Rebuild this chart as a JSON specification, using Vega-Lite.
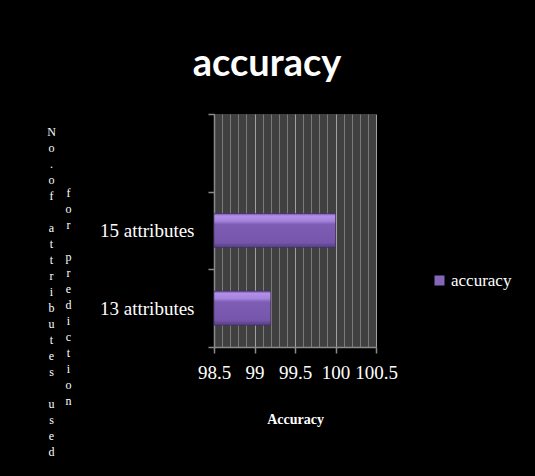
{
  "$schema": "https://vega.github.io/schema/vega-lite/v6.json",
  "autosize": {"type": "none"},
  "width": 162,
  "height": 233,
  "padding": {"left": 214, "top": 114, "right": 159, "bottom": 129},
  "background": "#000000",
  "title": {
    "text": "accuracy",
    "font": "Lato",
    "fontWeight": "bold",
    "fontSize": 38,
    "color": "#ffffff",
    "anchor": "middle",
    "dx": -28,
    "offset": 21
  },
  "data": {
    "values": [
      {"attributes": "15 attributes", "accuracy": 100.0, "series": "accuracy"},
      {"attributes": "13 attributes", "accuracy": 99.2, "series": "accuracy"}
    ]
  },
  "config": {
    "view": {"fill": "#404040", "stroke": null}
  },
  "resolve": {"axis": {"y": "independent"}},
  "layer": [
    {
      "mark": {
        "type": "bar",
        "height": {"band": 0.44},
        "fill": {
          "gradient": "linear",
          "x1": 0, "y1": 0, "x2": 0, "y2": 1,
          "stops": [
            {"offset": 0, "color": "#6a4c9c"},
            {"offset": 0.07, "color": "#b28fe8"},
            {"offset": 0.22, "color": "#a583dc"},
            {"offset": 0.32, "color": "#7e5db5"},
            {"offset": 0.85, "color": "#7656ab"},
            {"offset": 1, "color": "#553b82"}
          ]
        },
        "stroke": "#3a2a5a",
        "strokeWidth": 0.5
      },
      "encoding": {
        "y": {
          "field": "attributes",
          "type": "nominal",
          "sort": null,
          "scale": {"domain": [" ", "15 attributes", "13 attributes"], "paddingInner": 0, "paddingOuter": 0},
          "axis": {
            "title": ["N", "o", ".", "o", "f", "\u200b", "a", "t", "t", "r", "i", "b", "u", "t", "e", "s", "\u200b", "u", "s", "e", "d"],
            "titleFont": "Liberation Serif",
            "titleFontSize": 12,
            "titleFontWeight": "normal",
            "titleColor": "#ffffff",
            "titleAngle": 0,
            "titleAlign": "center",
            "titleBaseline": "alphabetic",
            "titleLineHeight": 16,
            "titleX": -163,
            "titleY": 21,
            "labelFont": "Liberation Serif",
            "labelFontSize": 19,
            "labelColor": "#ffffff",
            "labelPadding": 14,
            "tickBand": "extent",
            "tickColor": "#8a8a8a",
            "tickSize": 6,
            "tickWidth": 1.5,
            "domainColor": "#8a8a8a",
            "domainWidth": 1.5,
            "grid": false
          }
        },
        "x": {
          "field": "accuracy",
          "type": "quantitative",
          "scale": {"domain": [98.5, 100.5], "zero": false, "nice": false},
          "axis": {
            "values": [98.5, 98.6, 98.7, 98.8, 98.9, 99.0, 99.1, 99.2, 99.3, 99.4, 99.5, 99.6, 99.7, 99.8, 99.9, 100.0, 100.1, 100.2, 100.3, 100.4, 100.5],
            "labelExpr": "abs(round(datum.value*2)-datum.value*2) < 0.01 ? format(round(datum.value*2)/2, '~f') : ''",
            "labelFont": "Liberation Serif",
            "labelFontSize": 19,
            "labelColor": "#ffffff",
            "labelOverlap": false,
            "labelFlush": false,
            "labelBound": false,
            "labelPadding": 10,
            "tickColor": "#8a8a8a",
            "tickSize": 6,
            "tickWidth": 1.5,
            "tickOpacity": {"condition": {"test": "abs(round(datum.value*2)-datum.value*2) < 0.01", "value": 1}, "value": 0},
            "domainColor": "#8a8a8a",
            "domainWidth": 1.5,
            "grid": true,
            "gridColor": {"condition": {"test": "abs(round(datum.value*2)-datum.value*2) < 0.01", "value": "#a0a0a0"}, "value": "#7a7a7a"},
            "gridWidth": 1,
            "gridOpacity": 1,
            "title": "Accuracy",
            "titleFont": "Liberation Serif",
            "titleFontSize": 14,
            "titleFontWeight": "bold",
            "titleColor": "#ffffff",
            "titlePadding": 30
          }
        },
        "x2": {"datum": 98.5}
      }
    },
    {
      "mark": {"type": "square", "opacity": 0, "size": 100},
      "encoding": {
        "y": {
          "field": "attributes",
          "type": "nominal",
          "sort": null,
          "axis": {
            "title": ["f", "o", "r", "\u200b", "p", "r", "e", "d", "i", "c", "t", "i", "o", "n"],
            "titleFont": "Liberation Serif",
            "titleFontSize": 12,
            "titleFontWeight": "normal",
            "titleColor": "#ffffff",
            "titleAngle": 0,
            "titleAlign": "center",
            "titleBaseline": "alphabetic",
            "titleLineHeight": 16,
            "titleX": -146,
            "titleY": 82,
            "orient": "left",
            "labels": false,
            "ticks": false,
            "domain": false,
            "grid": false
          }
        },
        "color": {
          "field": "series",
          "type": "nominal",
          "scale": {"range": ["#8467b9"]},
          "legend": {
            "title": null,
            "orient": "none",
            "legendX": 217,
            "legendY": 158,
            "symbolType": "square",
            "symbolSize": 100,
            "symbolOpacity": 1,
            "symbolStrokeWidth": 0,
            "labelFont": "Liberation Serif",
            "labelFontSize": 17,
            "labelColor": "#ffffff",
            "labelOffset": 3,
            "encode": {"symbols": {"update": {"opacity": {"value": 1}}}}
          }
        }
      }
    }
  ]
}
